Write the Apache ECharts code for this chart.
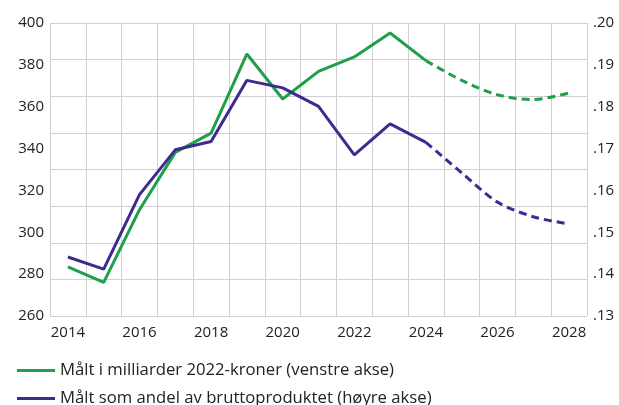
<!DOCTYPE html>
<html>
<head>
<meta charset="utf-8">
<script src="https://cdn.jsdelivr.net/npm/echarts@6/dist/echarts.min.js"></script>
<style>html,body{margin:0;padding:0;background:#fff}#c{width:619px;height:405px}</style>
</head>
<body>
<div id="c"></div>
<script>
const years = ['2014','2015','2016','2017','2018','2019','2020','2021','2022','2023','2024','2025','2026','2027','2028'];
const kronerActual = [283.5, 276.1, 310.8, 338.2, 347.4, 385.2, 363.7, 376.9, 383.8, 395.2, 382.0, null, null, null, null];
const kronerProj   = [null, null, null, null, null, null, null, null, null, null, 382.0, 372.6, 365.7, 363.4, 366.6];
const shareActual = [0.1441, 0.1412, 0.1590, 0.1697, 0.1717, 0.1863, 0.1845, 0.1801, 0.1685, 0.1759, 0.1715, null, null, null, null];
const shareProj   = [null, null, null, null, null, null, null, null, null, null, 0.1715, 0.1642, 0.1572, 0.1537, 0.1520];
const leftTicks = {min: 260, max: 400, interval: 20};
const rightTicks = {min: 0.13, max: 0.20, interval: 0.01};
const nameKroner = 'Målt i milliarder 2022-kroner (venstre akse)';
const nameShare = 'Målt som andel av bruttoproduktet (høyre akse)';

const GREEN = '#1f9e4b';
const PURPLE = '#3e2b8f';
const FONT = 'Open Sans';
const legendBase = {
  orient: 'horizontal', left: 17, padding: 0,
  itemWidth: 38, itemHeight: 3, icon: 'rect',
  textStyle: {fontSize: 16.7, color: '#222', fontFamily: FONT, padding: [0,0,0,0]}
};
const chart = echarts.init(document.getElementById('c'), null, {renderer: 'canvas'});
chart.setOption({
  animation: false,
  textStyle: {fontFamily: FONT},
  grid: {left: 50, right: 32, top: 23, bottom: 89, containLabel: false},
  legend: [
    Object.assign({}, legendBase, {top: 362, data: [nameKroner]}),
    Object.assign({}, legendBase, {top: 390, data: [nameShare]})
  ],
  xAxis: {
    type: 'category', data: years, boundaryGap: true,
    axisLine: {show: false}, axisTick: {show: false},
    axisLabel: {interval: 1, fontSize: 15, color: '#222', margin: 9},
    splitLine: {show: true, interval: 0, lineStyle: {color: '#d0d0d0', width: 1}}
  },
  yAxis: [
    {type: 'value', position: 'left', min: leftTicks.min, max: leftTicks.max, interval: leftTicks.interval,
     axisLine: {show: false}, axisTick: {show: false}, splitLine: {show: false},
     axisLabel: {fontSize: 15, color: '#222', margin: 6}},
    {type: 'value', position: 'right', min: rightTicks.min, max: rightTicks.max, interval: rightTicks.interval,
     axisLine: {show: false}, axisTick: {show: false}, splitLine: {show: false},
     axisLabel: {fontSize: 15, color: '#222', margin: 6, formatter: v => v.toFixed(2).replace(/^0/, '')}},
    {type: 'value', show: true, min: 0, max: 8, interval: 1, position: 'left', offset: 0,
     axisLine: {show: false}, axisTick: {show: false}, axisLabel: {show: false},
     splitLine: {show: true, lineStyle: {color: '#d0d0d0', width: 1}}}
  ],
  series: [
    {name: nameKroner, type: 'line', yAxisIndex: 0, data: kronerActual, showSymbol: false, symbol: 'none',
     lineStyle: {color: GREEN, width: 3}, itemStyle: {color: GREEN}, z: 3},
    {name: 'kronerProj', type: 'line', yAxisIndex: 0, data: kronerProj, showSymbol: false, symbol: 'none', smooth: 0.3,
     lineStyle: {color: GREEN, width: 3, type: [8, 5]}, itemStyle: {color: GREEN}, z: 3},
    {name: nameShare, type: 'line', yAxisIndex: 1, data: shareActual, showSymbol: false, symbol: 'none',
     lineStyle: {color: PURPLE, width: 3}, itemStyle: {color: PURPLE}, z: 4},
    {name: 'shareProj', type: 'line', yAxisIndex: 1, data: shareProj, showSymbol: false, symbol: 'none', smooth: 0.3,
     lineStyle: {color: PURPLE, width: 3, type: [8, 5]}, itemStyle: {color: PURPLE}, z: 4}
  ]
});
</script>
</body>
</html>
